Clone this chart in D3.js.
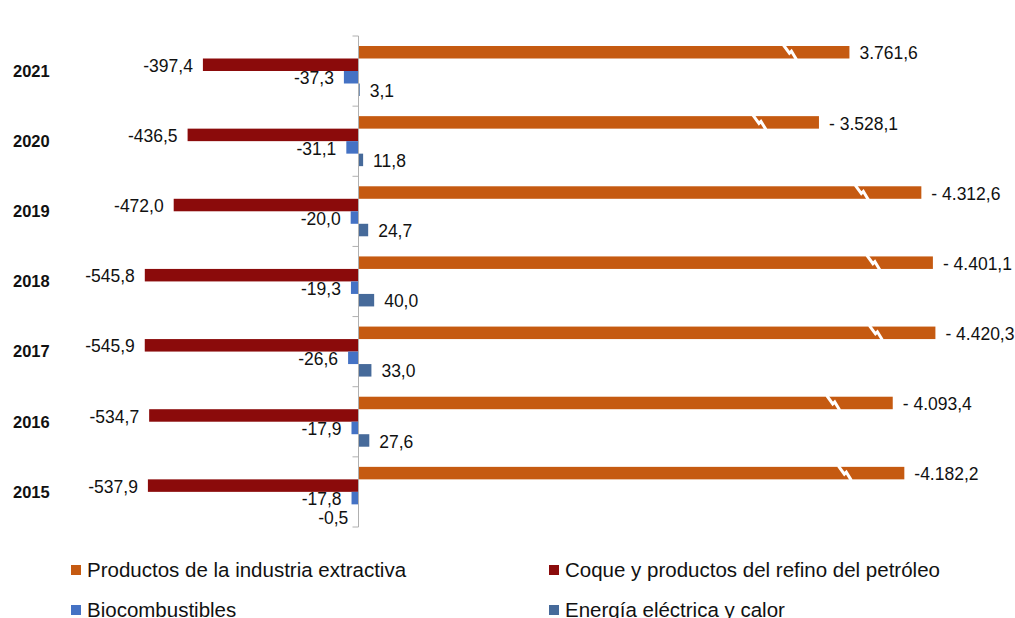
<!DOCTYPE html>
<html>
<head>
<meta charset="utf-8">
<script src="https://cdn.jsdelivr.net/npm/d3@7"></script>
<style>
  body { margin: 0; background: #fff; }
  text { font-family: "Liberation Sans", Arial, sans-serif; fill: #111; }
</style>
</head>
<body>
<div id="chart"></div>
<script>
// données (saldo comercial por producto energético)
const anios = ["2021", "2020", "2019", "2018", "2017", "2016", "2015"];
const extractiva = [3761.6, 3528.1, 4312.6, 4401.1, 4420.3, 4093.4, 4182.2];
const prefijoExtractiva = ["", "- ", "- ", "- ", "- ", "- ", "-"];
const coque = [-397.4, -436.5, -472.0, -545.8, -545.9, -534.7, -537.9];
const biocombustibles = [-37.3, -31.1, -20.0, -19.3, -26.6, -17.9, -17.8];
const energia = [3.1, 11.8, 24.7, 40.0, 33.0, 27.6, -0.5];
const series = ["Productos de la industria extractiva", "Coque y productos del refino del petróleo",
  "Biocombustibles", "Energía eléctrica y calor"];
const colores = ["#C55A11", "#8B0B0B", "#4472C4", "#466A9A"];
// la serie extractiva se dibuja con eje cortado (escala reducida)
const factorCorte = 3;

const width = 1015, height = 618;
const es = d3.formatLocale({ decimal: ",", thousands: ".", grouping: [3], currency: ["", "€"] });
const fmt = es.format(",.1f");
const fmtNum = v => fmt(v).replace("−", "-");

const svg = d3.select("#chart").append("svg")
  .attr("width", width).attr("height", height);

const x = d3.scaleLinear().domain([-545.8, 0]).range([144.8, 358.5]);
const y = d3.scaleBand().domain(anios).range([36, 527]);
const ySub = d3.scaleBand().domain(d3.range(4)).range([10, 60]);

const datos = anios.map((a, i) => ({
  anio: a,
  valores: [extractiva[i] / factorCorte, coque[i], biocombustibles[i], energia[i]],
  reales: [extractiva[i], coque[i], biocombustibles[i], energia[i]],
  prefijo: prefijoExtractiva[i]
}));

// barras
const grupos = svg.selectAll(".grupo").data(datos).join("g")
  .attr("class", "grupo")
  .attr("transform", d => `translate(0,${y(d.anio)})`);

grupos.selectAll("rect").data(d => d.valores.map((v, k) => ({ v, k })))
  .join("rect")
  .attr("x", d => x(Math.min(0, d.v)))
  .attr("y", d => ySub(d.k))
  .attr("width", d => Math.abs(x(d.v) - x(0)))
  .attr("height", ySub.bandwidth())
  .attr("fill", d => colores[d.k]);

// marcas de corte en la barra naranja
grupos.append("path")
  .attr("d", d => {
    const bx = x(d.valores[0]) - 60;
    const t = ySub(0) - 1, b = ySub(0) + ySub.bandwidth() + 1, m = (t + b) / 2;
    return `M${bx - 6},${t} L${bx},${m + 1} L${bx + 2},${m - 1} L${bx + 7},${b}`;
  })
  .attr("fill", "none")
  .attr("stroke", "#fff")
  .attr("stroke-width", 3);

// etiquetas de valores (la de energía negativa baja un poco para no chocar)
grupos.selectAll(".etiqueta").data(d => d.valores.map((v, k) => ({ v, k, real: d.reales[k], prefijo: d.prefijo })))
  .join("text")
  .attr("class", "etiqueta")
  .attr("x", d => d.v < 0 ? x(d.v) - 10 : x(d.v) + 10)
  .attr("y", d => ySub(d.k) + ySub.bandwidth() / 2 + 1 + (d.k === 3 && d.v < 0 ? 6 : 0))
  .attr("dy", "0.35em")
  .attr("text-anchor", d => d.v < 0 ? "end" : "start")
  .attr("font-size", 17.5)
  .text(d => d.k === 0 ? d.prefijo + fmtNum(d.real) : fmtNum(d.real));

// eje vertical
const eje = svg.append("g").attr("transform", `translate(${x(0)},0)`);
eje.append("line")
  .attr("y1", y.range()[0]).attr("y2", y.range()[1])
  .attr("stroke", "#b0b0b0");
eje.selectAll(".tick").data(anios.concat(["fin"]))
  .join("line")
  .attr("x1", -6).attr("x2", 0)
  .attr("y1", (d, i) => y.range()[0] + i * y.step())
  .attr("y2", (d, i) => y.range()[0] + i * y.step())
  .attr("stroke", "#b0b0b0");

// años
svg.selectAll(".anio").data(anios).join("text")
  .attr("class", "anio")
  .attr("x", 13)
  .attr("y", d => y(d) + y.bandwidth() / 2)
  .attr("dy", "0.35em")
  .attr("font-size", 16.5)
  .attr("font-weight", "bold")
  .text(d => d);

// leyenda
const leyenda = svg.selectAll(".leyenda").data(series).join("g")
  .attr("class", "leyenda")
  .attr("transform", (d, i) => `translate(${i % 2 === 0 ? 71 : 549},${i < 2 ? 570 : 610})`);
leyenda.append("rect")
  .attr("x", 0).attr("y", -5).attr("width", 10).attr("height", 10)
  .attr("fill", (d, i) => colores[i]);
leyenda.append("text")
  .attr("x", 16).attr("dy", "0.35em")
  .attr("font-size", 20.5)
  .text(d => d);
</script>
</body>
</html>
